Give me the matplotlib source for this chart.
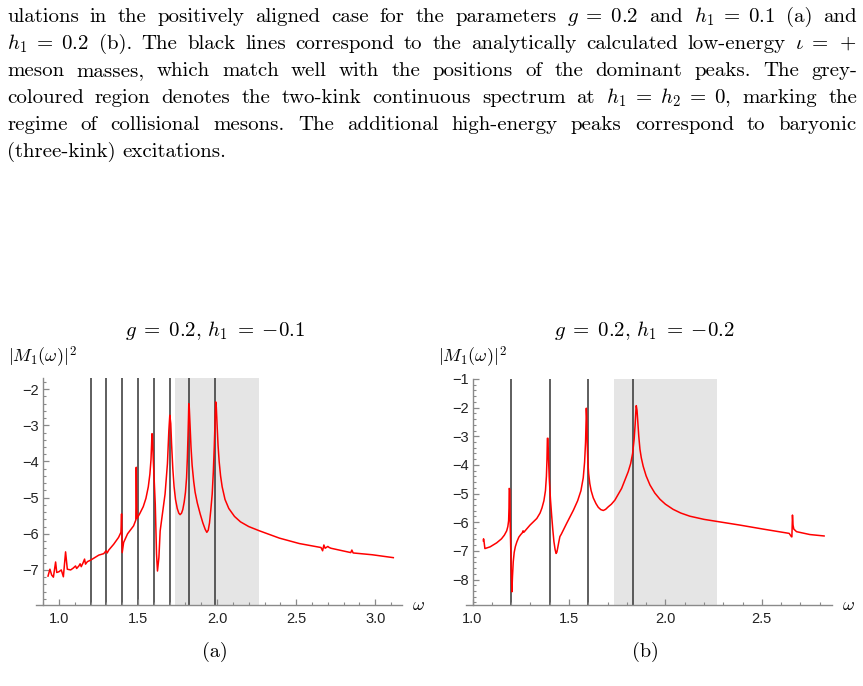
import re
import numpy as np
import matplotlib
matplotlib.use("Agg")
import matplotlib.pyplot as plt
from matplotlib.ticker import MultipleLocator

plt.rcParams["font.family"] = "Liberation Sans"
plt.rcParams["mathtext.fontset"] = "cm"

# caption text of the page, one entry per printed line
caption_lines = [
    r"ulations in the positively aligned case for the parameters $g\;=\;0.2$ and $h_1\;=\;0.1$ (a) and",
    r"$h_1\;=\;0.2$ (b). The black lines correspond to the analytically calculated low-energy $\iota\;=\;+$",
    r"meson masses, which match well with the positions of the dominant peaks. The grey-",
    r"coloured region denotes the two-kink continuous spectrum at $h_1\;=\;h_2\;=\;0$, marking the",
    r"regime of collisional mesons. The additional high-energy peaks correspond to baryonic",
    r"(three-kink) excitations.",
]

# panel (a): g = 0.2, h1 = -0.1
omega_a = [0.931, 0.943, 0.954, 0.965, 0.979, 0.986, 1.000, 1.015, 1.028, 1.042,
           1.053, 1.074, 1.090, 1.105, 1.112, 1.126, 1.134, 1.141, 1.153, 1.162,
           1.168, 1.180, 1.200, 1.252, 1.283, 1.298, 1.305, 1.315, 1.346, 1.377,
           1.392, 1.396, 1.400, 1.409, 1.434, 1.472, 1.486, 1.489, 1.493, 1.510,
           1.533, 1.550, 1.565, 1.575, 1.582, 1.586, 1.588, 1.591, 1.596, 1.609,
           1.617, 1.623, 1.632, 1.640, 1.657, 1.671, 1.686, 1.695, 1.701, 1.707,
           1.712, 1.720, 1.728, 1.737, 1.748, 1.758, 1.766, 1.775, 1.783, 1.792,
           1.800, 1.807, 1.812, 1.816, 1.819, 1.821, 1.824, 1.829, 1.835, 1.842,
           1.852, 1.861, 1.875, 1.893, 1.910, 1.925, 1.935, 1.944, 1.952, 1.960,
           1.969, 1.976, 1.982, 1.987, 1.991, 1.995, 2.000, 2.006, 2.013, 2.022,
           2.032, 2.050, 2.074, 2.110, 2.148, 2.200, 2.269, 2.394, 2.520, 2.657,
           2.667, 2.675, 2.683, 2.700, 2.709, 2.720, 2.845, 2.852, 2.860, 2.981,
           3.114]
m_a = [-7.17, -6.98, -7.14, -7.20, -6.78, -7.07, -7.05, -7.00, -7.19, -6.50,
       -6.98, -7.00, -6.95, -6.89, -6.96, -6.89, -6.83, -6.91, -6.80, -6.70,
       -6.84, -6.77, -6.73, -6.59, -6.55, -6.47, -6.53, -6.45, -6.29, -6.10,
       -5.96, -5.45, -6.52, -6.24, -6.00, -5.78, -5.62, -4.16, -5.58, -5.45,
       -5.25, -5.02, -4.70, -4.35, -3.95, -3.50, -3.23, -3.25, -3.90, -5.18,
       -6.56, -7.03, -6.66, -5.92, -5.36, -4.90, -4.06, -3.14, -2.72, -2.95,
       -3.50, -4.20, -4.70, -5.05, -5.30, -5.43, -5.47, -5.43, -5.33, -5.12,
       -4.85, -4.45, -3.90, -3.30, -2.80, -2.40, -2.50, -3.00, -3.60, -4.10,
       -4.55, -4.85, -5.15, -5.45, -5.70, -5.88, -5.96, -5.90, -5.70, -5.35,
       -4.90, -4.30, -3.60, -2.90, -2.35, -2.50, -3.00, -3.55, -4.00, -4.40,
       -4.70, -5.05, -5.30, -5.52, -5.67, -5.80, -5.92, -6.12, -6.27, -6.38,
       -6.47, -6.31, -6.40, -6.35, -6.38, -6.40, -6.52, -6.45, -6.53, -6.58,
       -6.66]
meson_a = [1.2, 1.3, 1.4, 1.5, 1.6, 1.7, 1.821, 1.988]

# panel (b): g = 0.2, h1 = -0.2
omega_b = [1.056, 1.057, 1.060, 1.064, 1.091, 1.125, 1.150, 1.165, 1.177, 1.183,
           1.187, 1.189, 1.190, 1.193, 1.195, 1.200, 1.204, 1.207, 1.211, 1.216,
           1.222, 1.230, 1.240, 1.250, 1.258, 1.262, 1.266, 1.298, 1.333, 1.350,
           1.360, 1.370, 1.378, 1.383, 1.386, 1.388, 1.391, 1.394, 1.398, 1.404,
           1.410, 1.416, 1.422, 1.428, 1.433, 1.437, 1.441, 1.447, 1.453, 1.460,
           1.488, 1.523, 1.545, 1.562, 1.574, 1.581, 1.586, 1.589, 1.590, 1.592,
           1.595, 1.598, 1.602, 1.608, 1.615, 1.626, 1.640, 1.652, 1.665, 1.678,
           1.690, 1.704, 1.720, 1.738, 1.773, 1.807, 1.820, 1.830, 1.838, 1.843,
           1.847, 1.849, 1.853, 1.858, 1.862, 1.868, 1.875, 1.885, 1.900, 1.920,
           1.945, 1.972, 2.000, 2.040, 2.080, 2.127, 2.200, 2.274, 2.386, 2.507,
           2.642, 2.654, 2.656, 2.659, 2.662, 2.666, 2.680, 2.749, 2.823]
m_b = [-6.65, -6.58, -6.70, -6.92, -6.86, -6.72, -6.58, -6.45, -6.30, -6.15,
       -5.95, -5.50, -4.82, -4.85, -6.00, -7.50, -8.43, -7.90, -7.38, -7.05,
       -6.85, -6.68, -6.52, -6.43, -6.37, -6.30, -6.35, -6.10, -5.87, -5.68,
       -5.50, -5.25, -4.90, -4.40, -3.80, -3.07, -3.07, -3.80, -4.50, -5.20,
       -5.75, -6.25, -6.68, -6.95, -7.09, -7.05, -6.92, -6.70, -6.50, -6.42,
       -6.04, -5.58, -5.25, -4.90, -4.45, -3.90, -3.20, -2.40, -2.02, -2.30,
       -3.30, -3.90, -4.30, -4.65, -4.90, -5.15, -5.35, -5.48, -5.56, -5.59,
       -5.55, -5.46, -5.37, -5.23, -4.82, -4.24, -3.95, -3.60, -3.10, -2.60,
       -2.10, -1.93, -2.10, -2.60, -3.00, -3.45, -3.75, -4.05, -4.38, -4.70,
       -4.98, -5.20, -5.37, -5.55, -5.68, -5.79, -5.90, -5.98, -6.10, -6.24,
       -6.39, -6.51, -6.51, -5.75, -6.10, -6.24, -6.33, -6.43, -6.48]
meson_b = [1.2, 1.4, 1.6, 1.83]

# two-kink continuum at h1 = h2 = 0
band = (1.733, 2.268)

W, H = 863, 686
fig = plt.figure(figsize=(W / 100, H / 100), dpi=100)
renderer = fig.canvas.get_renderer()

# justified caption
text_left, text_right = 7, 857
baselines = [22, 49, 76, 103, 130, 157]
for i, line in enumerate(caption_lines):
    words = re.findall(r"(?:\$[^$]*\$|[^\s$])+", line)
    texts = [fig.text(0, 1 - baselines[i] / H, w, fontsize=15, family="cmr10",
                      va="baseline", ha="left") for w in words]
    widths = [t.get_window_extent(renderer).width for t in texts]
    if i < len(caption_lines) - 1:
        gap = (text_right - text_left - sum(widths)) / (len(words) - 1)
    else:
        gap = 6.5
    x = text_left
    for t, w in zip(texts, widths):
        t.set_x(x / W)
        x += w + gap


def panel(rect, omega, m, mesons, xlim, ylim, yaxis_at, title, label, tag_x):
    ax = fig.add_axes(rect)
    ax.axvspan(band[0], band[1], color="#e5e5e5", lw=0, zorder=0)
    for w in mesons:
        ax.axvline(w, color="#333333", lw=1.1, zorder=1)
    ax.plot(omega, m, color="red", lw=1.1, zorder=2)
    ax.set_xlim(*xlim)
    ax.set_ylim(*ylim)
    ax.patch.set_alpha(0)

    for s in ("top", "right"):
        ax.spines[s].set_visible(False)
    ax.spines["left"].set_position(("data", yaxis_at))
    for s in ("left", "bottom"):
        ax.spines[s].set_color("#8a8a8a")
        ax.spines[s].set_linewidth(1.0)
        ax.spines[s].set_zorder(3)

    ax.xaxis.set_major_locator(MultipleLocator(0.5))
    ax.xaxis.set_minor_locator(MultipleLocator(0.1))
    ax.yaxis.set_major_locator(MultipleLocator(1))
    ax.yaxis.set_minor_locator(MultipleLocator(0.2))
    ax.tick_params(which="both", direction="in", color="#8a8a8a", labelcolor="#222222",
                   labelsize=10.5)
    ax.tick_params(which="major", length=4, width=0.9)
    ax.tick_params(which="minor", length=2, width=0.8)
    ax.tick_params(axis="x", pad=5)
    ax.tick_params(axis="y", pad=3)

    pos = ax.get_position()
    fig.text(pos.x0 + pos.width / 2 - 0.005, 1 - 330 / H, title, fontsize=15,
             ha="center", va="center")
    fig.text(pos.x0 - 28 / W, 1 - 357 / H, r"$|M_1(\omega)|^2$", fontsize=13,
             ha="left", va="center")
    fig.text(pos.x1 + 10 / W, pos.y0, r"$\omega$", fontsize=13, ha="left", va="center")
    fig.text(tag_x / W, 1 - 652 / H, label, fontsize=14.5, family="cmr10",
             ha="center", va="center")
    return ax


panel([36 / W, 1 - 605 / H, 366 / W, 227 / H], omega_a, m_a, meson_a,
      (0.855, 3.169), (-7.97, -1.69), 0.9, r"$g\;=\;0.2,\,h_1\;=\;{-0.1}$", "(a)", 215)
panel([466 / W, 1 - 605 / H, 366 / W, 226 / H], omega_b, m_b, meson_b,
      (0.966, 2.864), (-8.89, -1.0), 1.0, r"$g\;=\;0.2,\,h_1\;=\;{-0.2}$", "(b)", 645)

fig.savefig("out.png", dpi=100)
